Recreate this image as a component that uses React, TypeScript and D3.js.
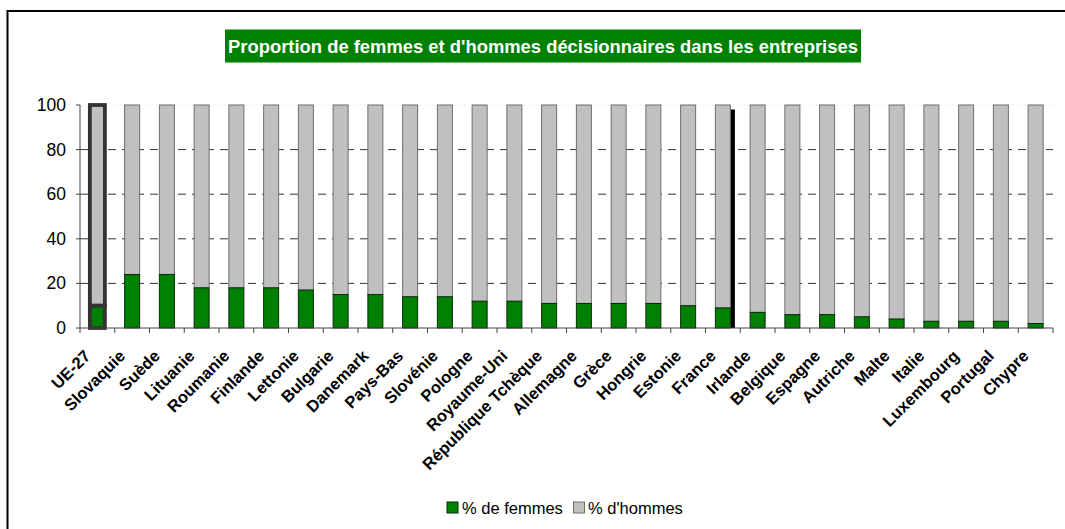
import React from "react";
import * as d3 from "d3";

const categories = [
  "UE-27", "Slovaquie", "Suède", "Lituanie", "Roumanie", "Finlande", "Lettonie",
  "Bulgarie", "Danemark", "Pays-Bas", "Slovénie", "Pologne", "Royaume-Uni",
  "République Tchèque", "Allemagne", "Grèce", "Hongrie", "Estonie", "France",
  "Irlande", "Belgique", "Espagne", "Autriche", "Malte", "Italie", "Luxembourg",
  "Portugal", "Chypre",
];
const femmes = [10, 24, 24, 18, 18, 18, 17, 15, 15, 14, 14, 12, 12, 11, 11, 11, 11, 10, 9, 7, 6, 6, 5, 4, 3, 3, 3, 2];
const hommes = [90, 76, 76, 82, 82, 82, 83, 85, 85, 86, 86, 88, 88, 89, 89, 89, 89, 90, 91, 93, 94, 94, 95, 96, 97, 97, 97, 98];
const yTicks = [0, 20, 40, 60, 80, 100];
const seriesNames = ["% de femmes", "% d'hommes"];
const title = "Proportion de femmes et d'hommes décisionnaires dans les entreprises";

const GREEN = "#008000";
const GREY = "#C0C0C0";

export default function App() {
  const p = 0.568;
  const x = d3.scaleBand<string>().domain(categories).range([80, 1053]).paddingInner(p).paddingOuter(p / 2);
  const y = d3.scaleLinear().domain([0, 100]).range([328, 105]);
  const bw = x.bandwidth();
  const step = x.step();
  const font = "'Liberation Sans', Arial, sans-serif";

  return (
    <svg width={1065} height={529} style={{ position: "absolute", left: 0, top: 0, background: "#fff" }} fontFamily={font}>
      <rect x={0} y={0} width={1065} height={529} fill="#fff" />
      <rect x={7.5} y={11} width={1100} height={600} fill="none" stroke="#000" strokeWidth={2} />
      {/* title */}
      <rect x={225} y={29.5} width={636} height={33} fill={GREEN} />
      <text x={543} y={52.5} textAnchor="middle" fill="#fff" fontWeight="bold" fontSize={18.4}>{title}</text>

      {/* grid */}
      {yTicks.filter((t) => t > 0).map((t) => (
        <line key={t} x1={80} x2={1053} y1={y(t)} y2={y(t)}
          stroke={t === 100 ? "#eeeeee" : "#333"} strokeWidth={1}
          strokeDasharray={t === 100 ? "2,2" : "8,6"} />
      ))}

      {/* bars */}
      {categories.map((c, i) => {
        const x0 = x(c)!;
        const hl = i === 0;
        const top = y(femmes[i] + hommes[i]);
        return (
          <g key={c}>
            <rect x={x0} y={top} width={bw} height={y(femmes[i]) - top} fill={GREY}
              stroke={hl ? "#333" : "#6e6e6e"} strokeWidth={hl ? 3.8 : 1} />
            <rect x={x0} y={y(femmes[i])} width={bw} height={y(0) - y(femmes[i])} fill={GREEN}
              stroke={hl ? "#333" : "#0b2a0b"} strokeWidth={hl ? 3.8 : 1} />
            {c === "France" && (
              <rect x={x0 + bw + 0.5} y={y(98)} width={4} height={y(0) - y(98)} fill="#000" />
            )}
          </g>
        );
      })}

      {/* y axis */}
      <line x1={80} x2={80} y1={y(100)} y2={y(0)} stroke="#444" strokeWidth={1} />
      {yTicks.map((t) => (
        <g key={t}>
          <line x1={76} x2={80} y1={y(t)} y2={y(t)} stroke="#444" />
          <text x={66} y={y(t) + 6} textAnchor="end" fontSize={17.5} fill="#000">{t}</text>
        </g>
      ))}

      {/* x axis */}
      <line x1={80} x2={1053} y1={y(0)} y2={y(0)} stroke="#444" strokeWidth={1} />
      {d3.range(categories.length + 1).map((k) => (
        <line key={k} x1={80 + k * step} x2={80 + k * step} y1={y(0)} y2={y(0) + 5} stroke="#444" />
      ))}
      {categories.map((c) => {
        const cx = x(c)! + bw / 2;
        return (
          <text key={c} transform={`translate(${cx - 6},${357}) rotate(-45)`} textAnchor="end"
            fontSize={16.5} fontWeight="bold" fill="#000">{c}</text>
        );
      })}

      {/* legend */}
      <rect x={447} y={502} width={11} height={11} fill={GREEN} stroke="#0b2a0b" />
      <text x={462} y={513.5} fontSize={16.5} fill="#000">{seriesNames[0]}</text>
      <rect x={573.5} y={502} width={11} height={11} fill={GREY} stroke="#6e6e6e" />
      <text x={588} y={513.5} fontSize={16.5} fill="#000">{seriesNames[1]}</text>
    </svg>
  );
}
